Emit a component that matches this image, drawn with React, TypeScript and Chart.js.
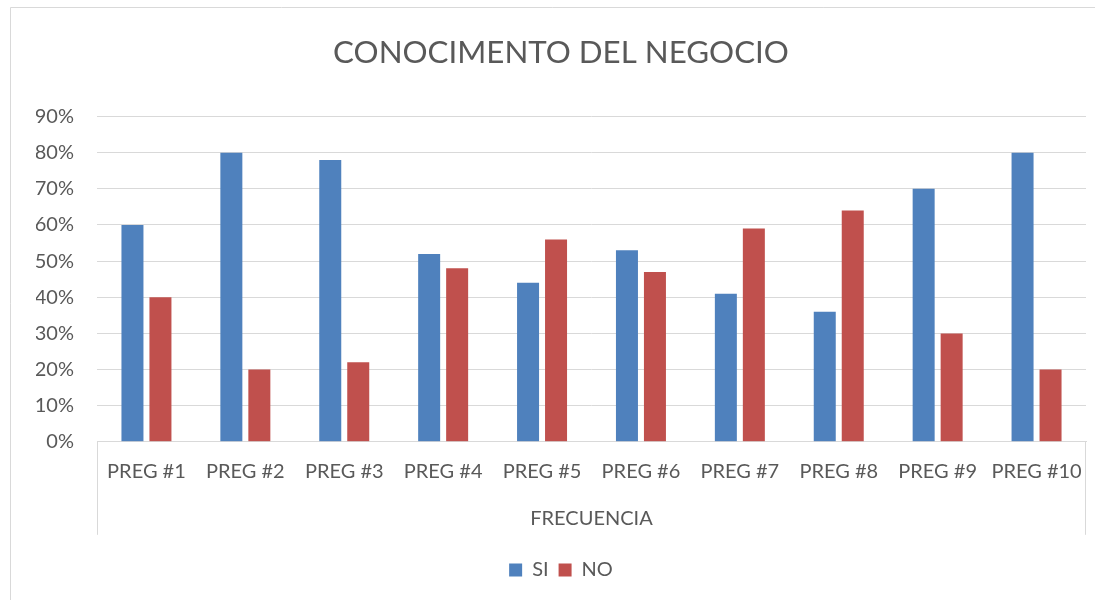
import React, { useEffect, useRef } from "react";
import { Chart, registerables } from "chart.js";

Chart.register(...registerables);

const categories = ["PREG #1", "PREG #2", "PREG #3", "PREG #4", "PREG #5", "PREG #6", "PREG #7", "PREG #8", "PREG #9", "PREG #10"];
const siValues = [60, 80, 78, 52, 44, 53, 41, 36, 70, 80];
const noValues = [40, 20, 22, 48, 56, 47, 59, 64, 30, 20];
const yTicksMax = 90;
const yStep = 10;

const TEXT = "#595959";
const GRID = "#d9d9d9";
const FONT = "Lato, 'Noto Sans', sans-serif";

const framePlugin = {
  id: "frame",
  beforeDraw(chart: any) {
    const { ctx, width, height } = chart;
    ctx.save();
    ctx.fillStyle = "#ffffff";
    ctx.fillRect(0, 0, width, height);
    ctx.strokeStyle = GRID;
    ctx.lineWidth = 1;
    ctx.beginPath();
    ctx.moveTo(10.5, height);
    ctx.lineTo(10.5, 7.5);
    ctx.lineTo(width, 7.5);
    ctx.stroke();
    ctx.restore();
  },
  afterDraw(chart: any) {
    const x = chart.scales.x;
    const { ctx } = chart;
    ctx.save();
    ctx.strokeStyle = GRID;
    ctx.lineWidth = 1;
    ctx.beginPath();
    const l = Math.round(x.left) + 0.5;
    const r = Math.round(x.right) - 0.5;
    ctx.moveTo(l, x.top);
    ctx.lineTo(l, x.bottom);
    ctx.moveTo(r, x.top);
    ctx.lineTo(r, x.bottom);
    ctx.stroke();
    ctx.restore();
  },
};

export default function App() {
  const ref = useRef<HTMLCanvasElement | null>(null);
  useEffect(() => {
    if (!ref.current) return;
    const chart = new Chart(ref.current, {
      type: "bar",
      data: {
        labels: categories,
        datasets: [
          { label: "SI", data: siValues, backgroundColor: "#4F81BD", categoryPercentage: 0.566, barPercentage: 0.786 },
          { label: "NO", data: noValues, backgroundColor: "#C0504D", categoryPercentage: 0.566, barPercentage: 0.786 },
        ],
      },
      options: {
        responsive: false,
        animation: false,
        layout: { padding: { top: 0, left: 36, right: 9, bottom: 10 } },
        plugins: {
          title: {
            display: true,
            text: "CONOCIMENTO DEL NEGOCIO",
            color: TEXT,
            font: { family: FONT, size: 31.3, weight: "normal" },
            padding: { top: 34, bottom: 45 },
          },
          legend: {
            position: "bottom",
            title: { display: true, text: "", font: { size: 1 }, padding: { top: 0, bottom: 14 } },
            labels: {
              color: TEXT,
              font: { family: FONT, size: 20 },
              boxWidth: 13,
              boxHeight: 13,
              padding: 10,
            },
          },
          tooltip: { enabled: false },
        },
        scales: {
          x: {
            grid: { display: false, drawTicks: false },
            border: { display: true, color: GRID, width: 1 },
            ticks: { color: TEXT, font: { family: FONT, size: 20 }, padding: 18, maxRotation: 0, autoSkip: false },
            title: {
              display: true,
              text: "FRECUENCIA",
              color: TEXT,
              font: { family: FONT, size: 20 },
              padding: { top: 0, bottom: 4 },
            },
            afterFit(scale: any) {
              scale.height = 93;
              scale.paddingLeft = 0;
              scale.paddingRight = 0;
            },
          },
          y: {
            min: 0,
            max: yTicksMax,
            grid: { color: GRID, lineWidth: 1, drawTicks: false },
            border: { display: false },
            ticks: {
              stepSize: yStep,
              color: TEXT,
              font: { family: FONT, size: 20 },
              padding: 23,
              callback: (v: any) => v + "%",
            },
            afterFit(scale: any) {
              scale.width = 61;
            },
          },
        },
      },
      plugins: [framePlugin],
    });
    return () => chart.destroy();
  }, []);
  return (
    <div style={{ position: "fixed", left: 0, top: 0, width: 1095, height: 600, background: "#fff" }}>
      <canvas ref={ref} width={1095} height={600} style={{ width: 1095, height: 600, display: "block" }} />
    </div>
  );
}
